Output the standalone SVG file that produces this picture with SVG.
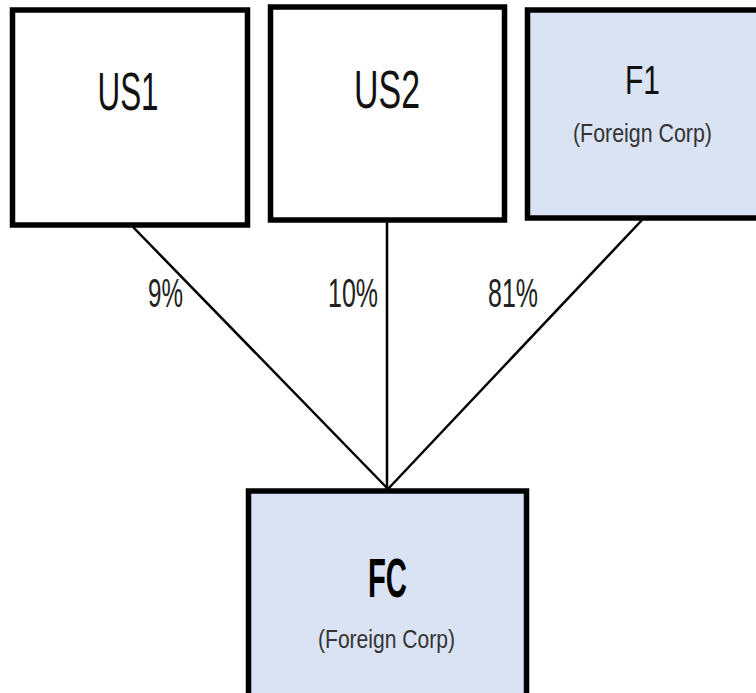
<svg xmlns="http://www.w3.org/2000/svg" width="756" height="693" viewBox="0 0 756 693">
  <style>
    .box { fill: #ffffff; stroke: #000000; stroke-width: 5.5; }
    .foreign { fill: #DAE3F3; }
    .edge { stroke: #000000; stroke-width: 2.5; fill: none; }
    text { font-family: "Liberation Sans", Arial, sans-serif; text-anchor: middle; }
    .title { font-size: 54px; fill: #111111; }
    .ftitle { font-size: 41px; fill: #111111; }
    .sub { font-size: 26px; fill: #333333; }
    .pct { font-size: 40px; fill: #222222; }
    .bold { font-size: 56px; font-weight: bold; fill: #000000; }
  </style>
  <rect width="756" height="693" fill="#ffffff"/>

  <!-- ownership connectors -->
  <g id="connectors">
    <line class="edge" x1="133" y1="227" x2="388" y2="489"/>
    <line class="edge" x1="387" y1="222" x2="387" y2="489"/>
    <line class="edge" x1="642" y1="220" x2="388" y2="489"/>
    <text class="pct" x="165.5" y="307" textLength="35" lengthAdjust="spacingAndGlyphs">9%</text>
    <text class="pct" x="353" y="307" textLength="50" lengthAdjust="spacingAndGlyphs">10%</text>
    <text class="pct" x="513" y="307" textLength="50" lengthAdjust="spacingAndGlyphs">81%</text>
  </g>

  <g id="US1">
    <rect class="box" x="12.5" y="10" width="235" height="215"/>
    <text class="title" x="128" y="110" textLength="61" lengthAdjust="spacingAndGlyphs">US1</text>
  </g>

  <g id="US2">
    <rect class="box" x="270.5" y="7" width="234" height="213"/>
    <text class="title" x="387" y="108" textLength="66" lengthAdjust="spacingAndGlyphs">US2</text>
  </g>

  <g id="F1">
    <rect class="box foreign" x="527.5" y="10" width="250" height="208"/>
    <text class="ftitle" x="642.5" y="94" textLength="35" lengthAdjust="spacingAndGlyphs">F1</text>
    <text class="sub" x="642.5" y="142" textLength="139" lengthAdjust="spacingAndGlyphs">(Foreign Corp)</text>
  </g>

  <g id="FC">
    <rect class="box foreign" x="248.5" y="491" width="278" height="250"/>
    <text class="bold" x="387.5" y="597" textLength="39" lengthAdjust="spacingAndGlyphs">FC</text>
    <text class="sub" x="386.5" y="648" textLength="137" lengthAdjust="spacingAndGlyphs">(Foreign Corp)</text>
  </g>
</svg>
